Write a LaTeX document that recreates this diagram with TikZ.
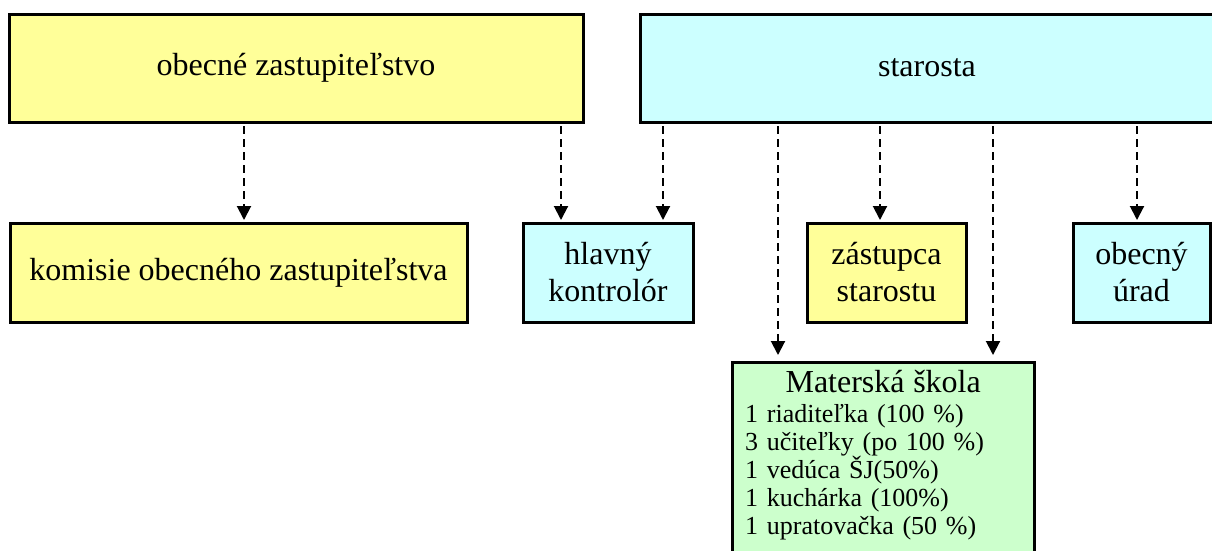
\documentclass[tikz,border=0pt]{standalone}
\usepackage{fontspec}
\setmainfont{Liberation Serif}
\usetikzlibrary{arrows.meta}
\definecolor{zlta}{HTML}{FFFF99}
\definecolor{modra}{HTML}{CCFFFF}
\definecolor{zelena}{HTML}{CCFFCC}
\newcommand{\velke}{\fontsize{32pt}{37pt}\selectfont}
\newcommand{\male}{\fontsize{26pt}{28pt}\selectfont}
\begin{document}
\begin{tikzpicture}[x=1pt,y=-1pt,
	box/.style={draw,line width=3pt,outer sep=0pt,inner sep=0pt,align=center,font=\velke,minimum height=99pt},
	link/.style={line width=2pt,dash pattern=on 8pt off 5pt,-{Triangle[length=14pt,width=14pt]},shorten <=4pt,shorten >=3pt}]
	\useasboundingbox (0,0) rectangle (1212,550);
	\clip (0,0) rectangle (1212,550);
	
	% horny rad
	\node[box,fill=zlta,minimum width=574pt,minimum height=108pt] (zast) at (296,68) {obecné zastupiteľstvo};
	\node[box,fill=modra,minimum width=574pt,minimum height=108pt] (star) at (927,68) {starosta};
	
	% stredny rad
	\node[box,fill=zlta,minimum width=457pt] (kom) at (238.5,272.5) {komisie obecného zastupiteľstva};
	\node[box,fill=modra,minimum width=170pt] (hlk) at (608,272.5) {hlavný\\kontrolór};
	\node[box,fill=zlta,minimum width=159pt] (zas) at (886.5,272.5) {zástupca\\starostu};
	\node[box,fill=modra,minimum width=137pt] (urad) at (1141.5,272.5) {obecný\\úrad};
	
	% materska skola
	\node[box,fill=zelena,minimum width=302pt,minimum height=230pt,anchor=north] (ms) at (883,362) {};
	\node[anchor=north west,inner sep=0pt,text width=276pt,align=left,font=\male] (mstext) at ([xshift=13pt,yshift=-8pt]ms.north west)
		{\makebox[276pt][c]{\velke Materská škola}\\[2pt]
		1 riaditeľka (100 \%)\\
		3 učiteľky (po 100 \%)\\
		1 vedúca ŠJ(50\%)\\
		1 kuchárka (100\%)\\
		1 upratovačka (50 \%)};
	
	\draw[link] ([xshift=5.5pt]kom.north |- zast.south) -- ([xshift=5.5pt]kom.north);
	\draw[link] ([xshift=-47pt]hlk.north |- zast.south) -- ([xshift=-47pt]hlk.north);
	\draw[link] ([xshift=55pt]hlk.north |- star.south) -- ([xshift=55pt]hlk.north);
	\draw[link] ([xshift=-6.5pt]zas.north |- star.south) -- ([xshift=-6.5pt]zas.north);
	\draw[link] ([xshift=-4.5pt]urad.north |- star.south) -- ([xshift=-4.5pt]urad.north);
	\draw[link,shorten >=7pt] ([xshift=-105pt]ms.north |- star.south) -- ([xshift=-105pt]ms.north);
	\draw[link,shorten >=7pt] ([xshift=110pt]ms.north |- star.south) -- ([xshift=110pt]ms.north);
\end{tikzpicture}
\end{document}
